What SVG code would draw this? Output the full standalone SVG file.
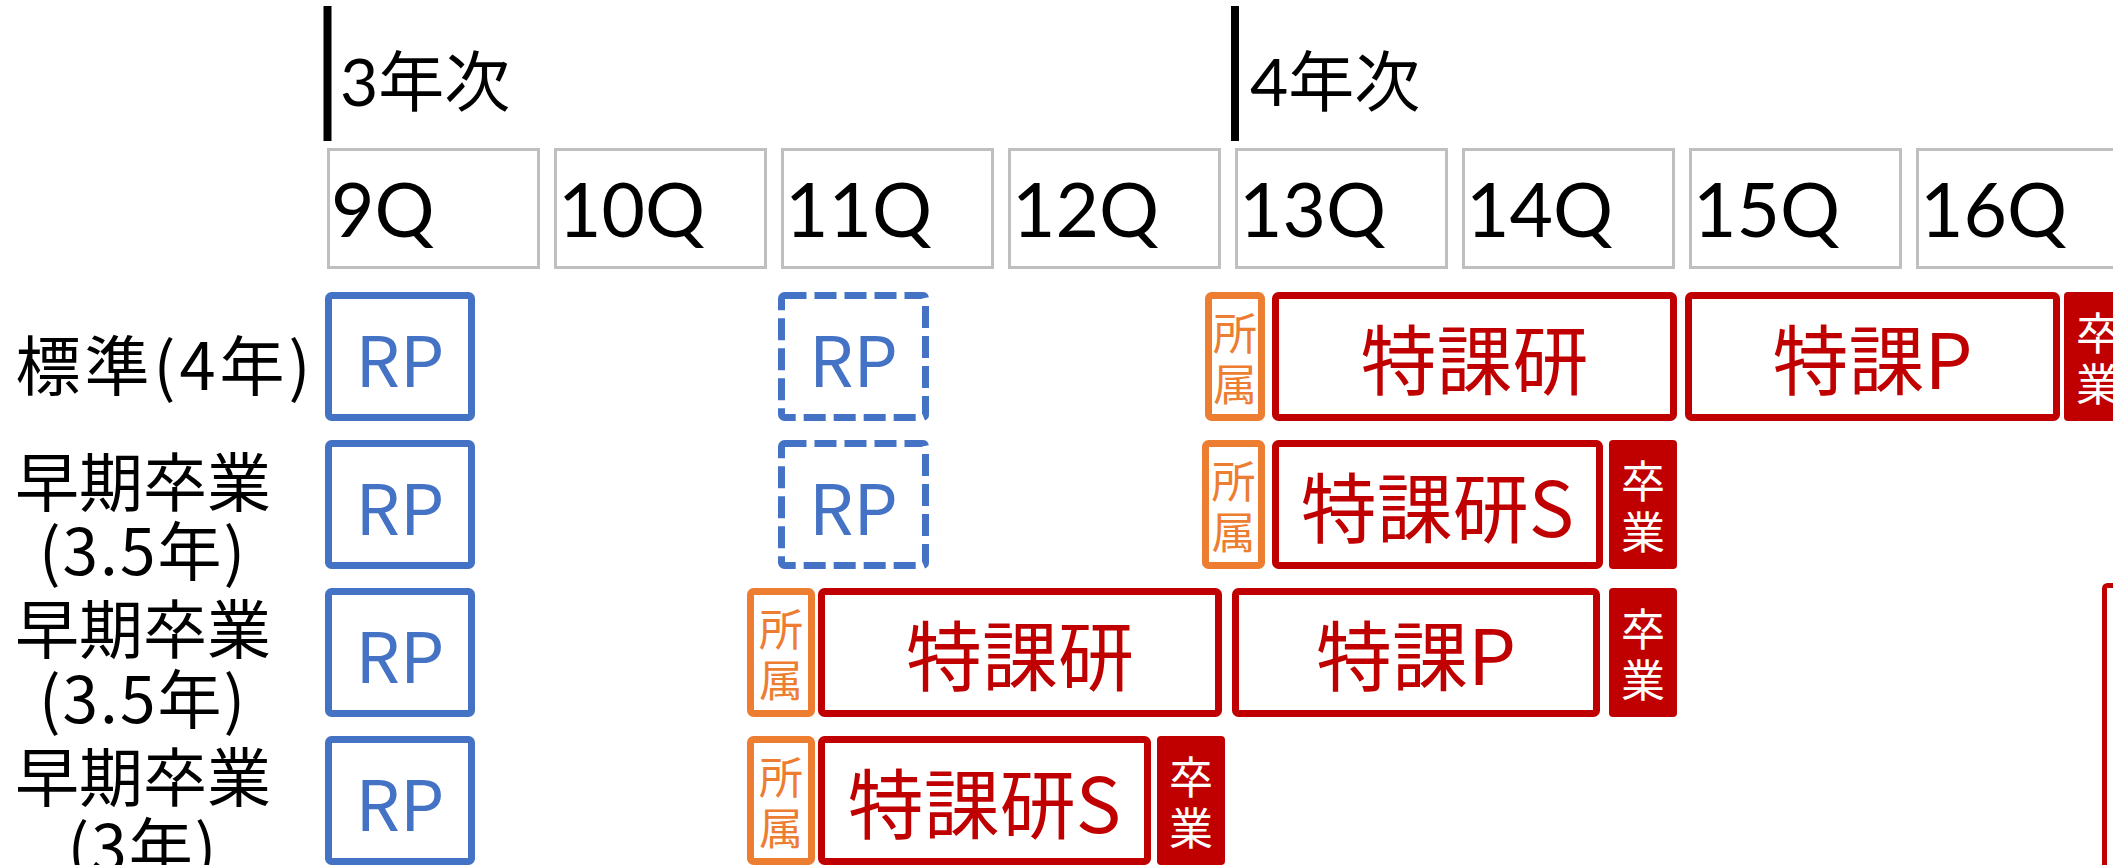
<svg xmlns="http://www.w3.org/2000/svg" width="2113" height="865" viewBox="0 0 2113 865">
<style>
.bar{fill:#000}
.q{fill:#fff;stroke:#bfbfbf;stroke-width:3}
.qt{font-family:Lato,"Noto Sans CJK JP",sans-serif;font-size:75px;fill:#000}
.yr{font-family:Lato,"Noto Sans CJK JP",sans-serif;font-size:66px;fill:#000}
.lbl{font-family:"Noto Sans CJK JP",sans-serif;font-size:64px;fill:#000;text-anchor:middle;dominant-baseline:central}
.rp{fill:#fff;stroke:#4472c4;stroke-width:7}
.rpd{fill:#fff;stroke:#4472c4;stroke-width:7;stroke-dasharray:22 8}
.rpt{font-family:"Noto Sans CJK JP",sans-serif;font-size:70px;fill:#4472c4;text-anchor:middle;dominant-baseline:central}
.sz{fill:#fff;stroke:#ed7d31;stroke-width:7}
.szt{font-family:"Noto Sans CJK JP",sans-serif;font-size:44px;fill:#ed7d31;text-anchor:middle;dominant-baseline:central}
.tk{fill:#fff;stroke:#c00000;stroke-width:7}
.tkt{font-family:"Noto Sans CJK JP",sans-serif;font-size:76px;fill:#c00000;text-anchor:middle;dominant-baseline:central}
.gr{fill:#c00000}
.grt{font-family:"Noto Sans CJK JP",sans-serif;font-size:44px;fill:#fff;text-anchor:middle;dominant-baseline:central}
</style>
<g id="header">
<rect class="bar" x="323.5" y="6" width="8" height="135"/>
<text class="yr" x="340" y="106">3年次</text>
<rect class="bar" x="1231" y="6" width="8" height="135"/>
<text class="yr" x="1250" y="106">4年次</text>
</g>
<g id="quarters">
<g id="q9"><rect class="q" x="328.5" y="149.5" width="210" height="118"/><text class="qt" x="331" y="237">9Q</text></g>
<g id="q10"><rect class="q" x="555.5" y="149.5" width="210" height="118"/><text class="qt" x="558" y="237">10Q</text></g>
<g id="q11"><rect class="q" x="782.5" y="149.5" width="210" height="118"/><text class="qt" x="785" y="237">11Q</text></g>
<g id="q12"><rect class="q" x="1009.5" y="149.5" width="210" height="118"/><text class="qt" x="1012" y="237">12Q</text></g>
<g id="q13"><rect class="q" x="1236.5" y="149.5" width="210" height="118"/><text class="qt" x="1239" y="237">13Q</text></g>
<g id="q14"><rect class="q" x="1463.5" y="149.5" width="210" height="118"/><text class="qt" x="1466" y="237">14Q</text></g>
<g id="q15"><rect class="q" x="1690.5" y="149.5" width="210" height="118"/><text class="qt" x="1693" y="237">15Q</text></g>
<g id="q16"><rect class="q" x="1917.5" y="149.5" width="210" height="118"/><text class="qt" x="1920" y="237">16Q</text></g>
</g>
<g id="labels">
<g id="label1"><text class="lbl" x="165" y="362" style="font-size:65px;letter-spacing:4px">標準(4年)</text></g>
<g id="label2"><text class="lbl" x="143" y="478">早期卒業</text><text class="lbl" x="143" y="547" style="letter-spacing:2px">(3.5年)</text></g>
<g id="label3"><text class="lbl" x="143" y="625">早期卒業</text><text class="lbl" x="143" y="695" style="letter-spacing:2px">(3.5年)</text></g>
<g id="label4"><text class="lbl" x="143" y="773">早期卒業</text><text class="lbl" x="143" y="843" style="letter-spacing:2px">(3年)</text></g>
</g>
<g id="row1">
<g id="r1-rp"><rect class="rp" x="328.5" y="295.5" width="143" height="122" rx="3"/><text class="rpt" x="400" y="356">RP</text></g>
<g id="r1-rp2"><rect class="rpd" x="781.5" y="295.5" width="144" height="122" rx="3"/><text class="rpt" x="853.5" y="356">RP</text></g>
<g id="r1-sz"><rect class="sz" x="1208.5" y="295.5" width="53" height="122" rx="3"/><text class="szt" x="1235" y="331">所</text><text class="szt" x="1235" y="382">属</text></g>
<g id="r1-tk"><rect class="tk" x="1275.5" y="295.5" width="398" height="122" rx="3"/><text class="tkt" x="1474.5" y="356">特課研</text></g>
<g id="r1-tp"><rect class="tk" x="1688.5" y="295.5" width="368" height="122" rx="3"/><text class="tkt" x="1872.5" y="356">特課P</text></g>
<g id="r1-gr"><rect class="gr" x="2064" y="292" width="68" height="129" rx="4"/><text class="grt" x="2098" y="331">卒</text><text class="grt" x="2098" y="382">業</text></g>
</g>
<g id="row2">
<g id="r2-rp"><rect class="rp" x="328.5" y="443.5" width="143" height="122" rx="3"/><text class="rpt" x="400" y="504">RP</text></g>
<g id="r2-rp2"><rect class="rpd" x="781.5" y="443.5" width="144" height="122" rx="3"/><text class="rpt" x="853.5" y="504">RP</text></g>
<g id="r2-sz"><rect class="sz" x="1205.5" y="443.5" width="56" height="122" rx="3"/><text class="szt" x="1233.5" y="479">所</text><text class="szt" x="1233.5" y="530">属</text></g>
<g id="r2-tk"><rect class="tk" x="1275.5" y="443.5" width="324" height="122" rx="3"/><text class="tkt" x="1437.5" y="504">特課研S</text></g>
<g id="r2-gr"><rect class="gr" x="1609" y="440" width="68" height="129" rx="4"/><text class="grt" x="1643" y="479">卒</text><text class="grt" x="1643" y="530">業</text></g>
</g>
<g id="row3">
<g id="r3-rp"><rect class="rp" x="328.5" y="591.5" width="143" height="122" rx="3"/><text class="rpt" x="400" y="652">RP</text></g>
<g id="r3-sz"><rect class="sz" x="750.5" y="591.5" width="61" height="122" rx="3"/><text class="szt" x="781" y="627">所</text><text class="szt" x="781" y="678">属</text></g>
<g id="r3-tk"><rect class="tk" x="821.5" y="591.5" width="397" height="122" rx="3"/><text class="tkt" x="1020" y="652">特課研</text></g>
<g id="r3-tp"><rect class="tk" x="1235.5" y="591.5" width="361" height="122" rx="3"/><text class="tkt" x="1416" y="652">特課P</text></g>
<g id="r3-gr"><rect class="gr" x="1609" y="588" width="68" height="129" rx="4"/><text class="grt" x="1643" y="627">卒</text><text class="grt" x="1643" y="678">業</text></g>
<g id="r3-next"><rect class="tk" style="stroke-width:5" x="2104.5" y="585.5" width="200" height="400" rx="3"/></g>
</g>
<g id="row4">
<g id="r4-rp"><rect class="rp" x="328.5" y="739.5" width="143" height="122" rx="3"/><text class="rpt" x="400" y="800">RP</text></g>
<g id="r4-sz"><rect class="sz" x="750.5" y="739.5" width="61" height="122" rx="3"/><text class="szt" x="781" y="775">所</text><text class="szt" x="781" y="826">属</text></g>
<g id="r4-tk"><rect class="tk" x="821.5" y="739.5" width="326" height="122" rx="3"/><text class="tkt" x="984.5" y="800">特課研S</text></g>
<g id="r4-gr"><rect class="gr" x="1157" y="736" width="68" height="129" rx="4"/><text class="grt" x="1191" y="775">卒</text><text class="grt" x="1191" y="826">業</text></g>
</g>
<g id="connectors"/>
</svg>
